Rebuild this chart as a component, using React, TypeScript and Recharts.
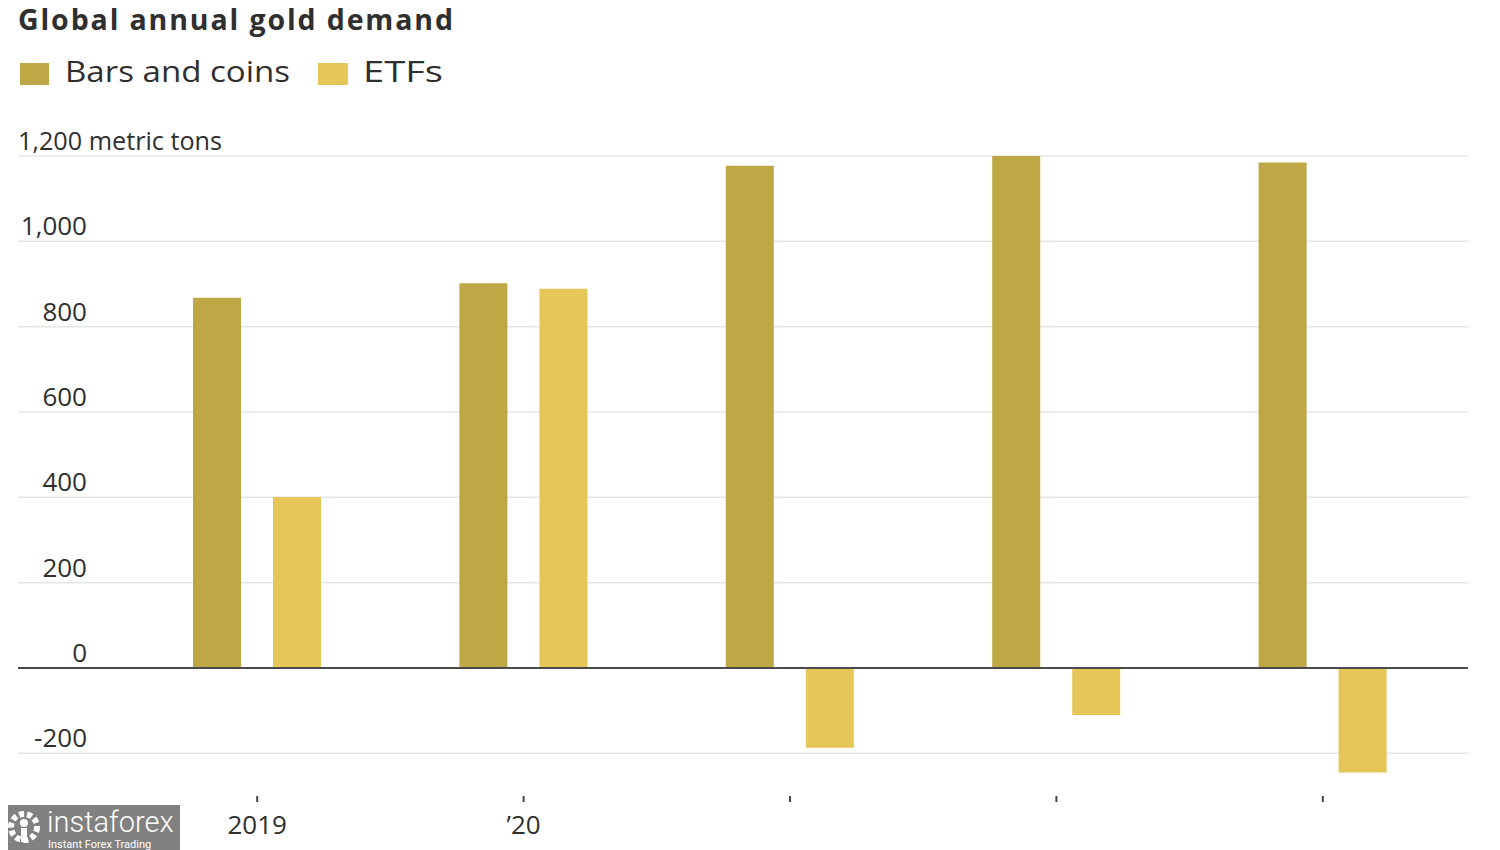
import React from "react";
import {
  BarChart,
  Bar,
  XAxis,
  YAxis,
  CartesianGrid,
  ReferenceLine,
} from "recharts";

const years = ["2019", "2020", "2021", "2022", "2023"];
const yearLabels = ["2019", "\u201920", "", "", ""];
const barsAndCoins = [868, 902, 1177, 1201, 1185];
const etfs = [401, 889, -187, -110, -245];
const yTicks = [-200, 0, 200, 400, 600, 800, 1000, 1200];
const seriesNames = ["Bars and coins", "ETFs"];

const COIN = "#BFA746";
const ETF = "#E6C656";
const TEXT = "#2f2f2f";
const FONT = "'Open Sans', 'Noto Sans', sans-serif";

const data = years.map((year, i) => ({
  year,
  barsAndCoins: barsAndCoins[i],
  etfs: etfs[i],
}));

const fmt = (v: number) => v.toLocaleString("en-US");

const YTick = ({ y, payload }: { y?: number; payload?: { value: number } }) => {
  if (y == null || !payload) return null;
  const v = payload.value;
  const top = v === yTicks[yTicks.length - 1];
  if (top) {
    return (
      <text
        x={10}
        y={y - 6}
        textAnchor="start"
        fontSize={26}
        textLength={204}
        lengthAdjust="spacingAndGlyphs"
        fontFamily={FONT}
        fill={TEXT}
      >
        {`${fmt(v)} metric tons`}
      </text>
    );
  }
  return (
    <text x={79} y={y - 6} textAnchor="end" fontSize={26} fontFamily={FONT} fill={TEXT}>
      {fmt(v)}
    </text>
  );
};

export default function App() {
  const W = 1484;
  const H = 842;
  return (
    <div style={{ position: "relative", width: W, height: H, fontFamily: FONT }}>
      <BarChart
        width={W}
        height={H}
        data={data}
        margin={{ top: 148, right: 24, left: 9, bottom: 4 }}
        barGap={32}
      >
        <CartesianGrid
          horizontal
          vertical={false}
          horizontalValues={yTicks}
          stroke="#e6e6e6"
          strokeWidth={1.5}
        />
        <XAxis
          dataKey="year"
          height={50}
          padding={{ left: 106, right: 12 }}
          axisLine={false}
          tickSize={6}
          tickMargin={14}
          tickLine={{ stroke: "#444", strokeWidth: 2 }}
          tickFormatter={(_v: string, i: number) => yearLabels[i]}
          tick={{ fontSize: 26, fill: TEXT, fontFamily: FONT }}
          interval={0}
        />
        <YAxis
          width={1}
          domain={[-300, 1200]}
          ticks={yTicks}
          axisLine={false}
          tickLine={false}
          tick={<YTick />}
          allowDataOverflow
        />
        <ReferenceLine y={0} stroke="#4a4a4a" strokeWidth={2} />
        <Bar
          dataKey="barsAndCoins"
          name={seriesNames[0]}
          fill={COIN}
          barSize={48}
          isAnimationActive={false}
        />
        <Bar
          dataKey="etfs"
          name={seriesNames[1]}
          fill={ETF}
          barSize={48}
          isAnimationActive={false}
        />
      </BarChart>

      <svg
        width={W}
        height={100}
        style={{ position: "absolute", left: 0, top: -8, pointerEvents: "none" }}
      >
        <text
          x={10}
          y={30}
          fontSize={28.5}
          fontWeight={700}
          textLength={435}
          lengthAdjust="spacing"
          fontFamily={FONT}
          fill={TEXT}
        >
          Global annual gold demand
        </text>
        <rect x={12} y={63} width={29} height={22} fill={COIN} />
        <text
          x={57}
          y={82}
          fontSize={29}
          textLength={225}
          lengthAdjust="spacingAndGlyphs"
          fontFamily={FONT}
          fill={TEXT}
        >
          {seriesNames[0]}
        </text>
        <rect x={310} y={63} width={30} height={22} fill={ETF} />
        <text
          x={355}
          y={82}
          fontSize={29}
          textLength={80}
          lengthAdjust="spacingAndGlyphs"
          fontFamily={FONT}
          fill={TEXT}
        >
          {seriesNames[1]}
        </text>
      </svg>

      <div
        style={{
          position: "absolute",
          left: -8,
          top: 797,
          width: 180,
          height: 45,
          background: "rgba(118,118,118,0.92)",
          color: "#fff",
          fontFamily: "Roboto, sans-serif",
        }}
      >
        <svg width={40} height={40} style={{ position: "absolute", left: 5, top: 3 }}>
          <circle cx={19} cy={19} r={13} fill="none" stroke="#fff" strokeWidth={6} strokeDasharray="5 3" />
          <circle cx={19} cy={15} r={4} fill="#fff" />
          <rect x={16} y={20} width={6} height={14} fill="#fff" />
        </svg>
        <div
          style={{
            position: "absolute",
            left: 47,
            top: 3,
            fontSize: 29,
            lineHeight: "28px",
            fontWeight: 300,
          }}
        >
          instaforex
        </div>
        <div
          style={{
            position: "absolute",
            left: 48,
            top: 34,
            fontSize: 11,
            lineHeight: "11px",
          }}
        >
          Instant Forex Trading
        </div>
      </div>
    </div>
  );
}
